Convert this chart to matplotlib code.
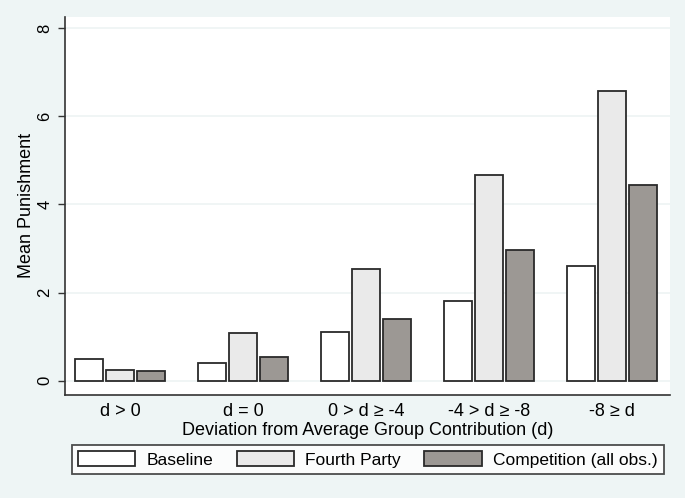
import numpy as np
import matplotlib
matplotlib.use("Agg")
import matplotlib.pyplot as plt

plt.rcParams['font.family'] = ['Liberation Sans', 'DejaVu Sans']

# data
categories = ["d > 0", "d = 0", "0 > d \u2265 -4", "-4 > d \u2265 -8", "-8 \u2265 d"]
baseline = [0.50, 0.41, 1.11, 1.80, 2.60]
fourth_party = [0.25, 1.08, 2.53, 4.66, 6.58]
competition = [0.22, 0.55, 1.39, 2.96, 4.45]
series_names = ["Baseline", "Fourth Party", "Competition (all obs.)"]
yticks = [0, 2, 4, 6, 8]

bg = "#eef5f5"
fig = plt.figure(figsize=(6.85, 4.98), dpi=100, facecolor=bg)
ax = fig.add_axes([0.095, 0.207, 0.883, 0.759])
ax.set_facecolor("white")

x = np.arange(len(categories))
w = 0.228
off = 0.252
colors = ["white", "#eaeaea", "#9c9894"]
for i, (vals, c, nm) in enumerate(zip([baseline, fourth_party, competition], colors, series_names)):
    ax.bar(x + (i - 1) * off, vals, width=w, color=c, edgecolor="#2a2a2a", linewidth=1.3, label=nm, zorder=3)

ax.set_xlim(-0.45, 4.47)
ax.set_ylim(-0.32, 8.25)
ax.set_yticks(yticks)
ax.set_yticklabels([str(t) for t in yticks], rotation=90, va="center", fontsize=12)
ax.set_xticks(x)
ax.set_xticklabels(categories, fontsize=13)
ax.tick_params(axis="x", length=0, pad=6)
ax.tick_params(axis="y", length=5, width=1, color="#333333", pad=4)
ax.grid(axis="y", color="#eef4f4", linewidth=1.2, zorder=0)
for s in ["top", "right"]:
    ax.spines[s].set_visible(False)
for s in ["left", "bottom"]:
    ax.spines[s].set_color("#333333")
    ax.spines[s].set_linewidth(1.2)

ax.set_ylabel("Mean Punishment", fontsize=13, labelpad=2)
ax.set_xlabel("Deviation from Average Group Contribution (d)", fontsize=13, labelpad=1)

leg = fig.legend(loc="center", bbox_to_anchor=(0.537, 0.0775), ncol=3, fontsize=12.5,
                 frameon=True, fancybox=False, edgecolor="#222222", facecolor="white",
                 handlelength=3.3, handleheight=0.9, columnspacing=1.35, handletextpad=0.65,
                 borderpad=0.35, borderaxespad=0)
leg.get_frame().set_linewidth(1.3)

fig.savefig("out.png", dpi=100, facecolor=bg)
